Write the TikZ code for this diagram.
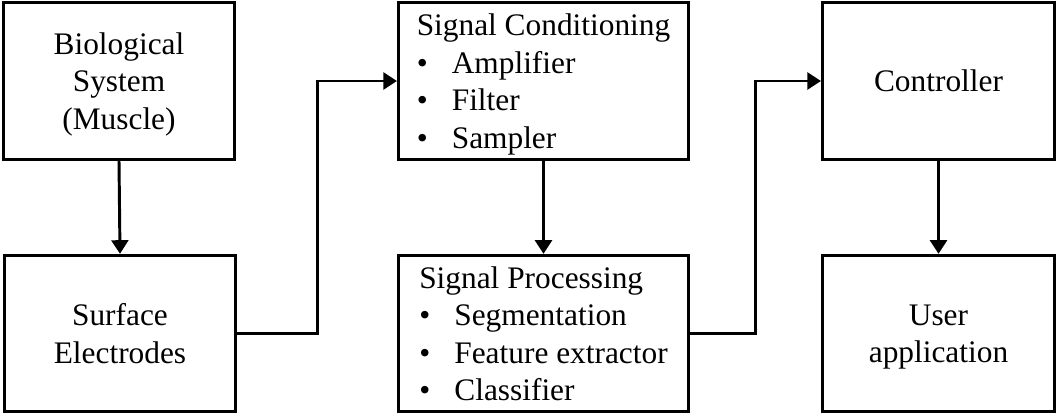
\documentclass[tikz,border=0pt]{standalone}
\usepackage{fontspec}
\setmainfont{Liberation Serif}
\usetikzlibrary{arrows.meta,positioning,calc}
\tikzset{
  blk/.style={draw,line width=2.1pt,minimum width=5.78cm,minimum height=3.91cm,inner sep=0pt,text depth=0pt,align=center,font=\fontsize{22.3}{26.7}\selectfont},
  lst/.style={blk,minimum width=7.25cm,align=left},
  link/.style={line width=2.1pt,-{Triangle[length=0.34cm,width=0.42cm]}}
}
\newcommand{\itm}[1]{\makebox[1.12em][l]{\textbullet}#1}

\begin{document}
\begin{tikzpicture}[x=0.025cm,y=-0.025cm]
  \useasboundingbox (0,0) rectangle (1057,414);
  % left column
  \node[blk] (bio) at (119,81) {Biological\\System\\(Muscle)};
  \node[blk] (elec) at (120,333.5) {Surface\\Electrodes};
  % middle column
  \node[lst] (cond) at (543.5,81) {Signal Conditioning\\\itm{Amplifier}\\\itm{Filter}\\\itm{Sampler}};
  \node[lst] (proc) at (543.5,333.5) {Signal Processing\\\itm{Segmentation}\\\itm{Feature extractor}\\\itm{Classifier}};
  % right column
  \node[blk,minimum width=5.8cm] (ctrl) at (938.5,81) {Controller};
  \node[blk,minimum width=5.8cm] (user) at (938.5,333.5) {User\\application};
  % connectors
  \foreach \a/\b in {bio/elec,cond/proc,ctrl/user} \draw[link] (\a.south) -- (\b.north);
  \draw[link] (elec.east) -| ($(elec.east)!.5!(cond.west)$) |- (cond.west);
  \draw[link] (proc.east) -| ($(proc.east)!.5!(ctrl.west)$) |- (ctrl.west);
\end{tikzpicture}
\end{document}
